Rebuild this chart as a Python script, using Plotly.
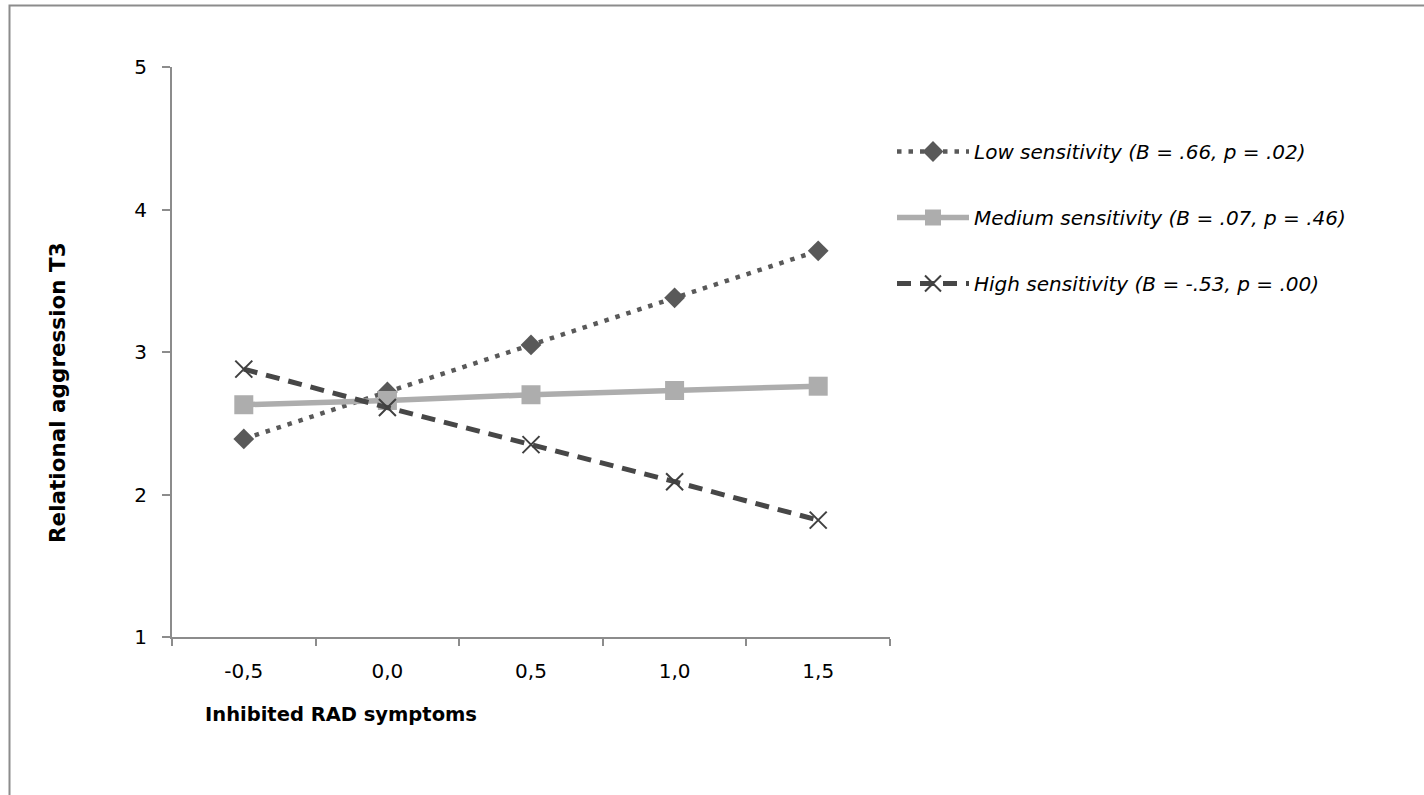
import plotly.graph_objects as go

categories = ["-0,5", "0,0", "0,5", "1,0", "1,5"]
low_vals = [2.39, 2.72, 3.05, 3.38, 3.71]
med_vals = [2.63, 2.66, 2.70, 2.73, 2.76]
high_vals = [2.88, 2.61, 2.35, 2.09, 1.82]
series_names = [
    "Low sensitivity (B = .66, p = .02)",
    "Medium sensitivity (B = .07, p = .46)",
    "High sensitivity (B = -.53, p = .00)",
]
y_ticks = [1, 2, 3, 4, 5]

W, H = 1424, 795
FONT = "DejaVu Sans"

fig = go.Figure()
fig.add_trace(go.Scatter(
    x=categories, y=low_vals, name=series_names[0], mode="lines+markers",
    line=dict(color="#595959", width=4.5, dash="4.5px,7px"),
    marker=dict(symbol="diamond", size=16, color="#595959"),
    legendgroup="a",
))
fig.add_trace(go.Scatter(
    x=categories, y=med_vals, name=series_names[1], mode="lines+markers",
    line=dict(color="#ADADAD", width=5.5),
    marker=dict(symbol="square", size=19, color="#ADADAD"),
    legendgroup="b",
))
fig.add_trace(go.Scatter(
    x=categories, y=high_vals, name=series_names[2], mode="lines+markers",
    line=dict(color="#474747", width=5, dash="14px,9px"),
    marker=dict(symbol="x-thin", size=17, color="#404040",
                line=dict(width=2, color="#404040")),
    legendgroup="c",
))

axis_col = "#8C8C8C"
fig.update_layout(
    width=W, height=H,
    margin=dict(l=0, r=0, t=0, b=0, autoexpand=False),
    paper_bgcolor="white", plot_bgcolor="white",
    font=dict(family=FONT, size=20, color="black"),
    showlegend=True,
    legend=dict(
        x=892 / W, y=1 - 132 / H, xanchor="left", yanchor="top",
        font=dict(family=FONT, size=20, style="italic"),
        itemwidth=72, tracegroupgap=37,
        bgcolor="rgba(0,0,0,0)",
    ),
    xaxis=dict(
        domain=[172 / W, 890 / W],
        type="category", range=[-0.5, 4.5], automargin=False,
        showline=True, linecolor=axis_col, linewidth=2,
        ticks="outside", tickson="boundaries", ticklen=7, tickcolor=axis_col, tickwidth=2,
        showgrid=False, zeroline=False,
        tickfont=dict(family=FONT, size=20),
        ticklabelstandoff=15,
    ),
    yaxis=dict(
        domain=[1 - 637 / H, 1 - 67 / H], automargin=False,
        range=[1, 5], tickvals=y_ticks,
        showline=True, linecolor=axis_col, linewidth=2,
        ticks="outside", ticklen=8, tickcolor=axis_col, tickwidth=2,
        showgrid=False, zeroline=False,
        tickfont=dict(family=FONT, size=20),
        ticklabelstandoff=11,
    ),
    annotations=[
        dict(text="<b>Inhibited RAD symptoms</b>", x=341 / W, y=1 - 714 / H,
             xref="paper", yref="paper", showarrow=False,
             font=dict(family=FONT, size=19.5), xanchor="center", yanchor="middle"),
        dict(text="<b>Relational aggression T3</b>", x=57 / W, y=1 - 393 / H,
             xref="paper", yref="paper", showarrow=False, textangle=-90,
             font=dict(family=FONT, size=21.5), xanchor="center", yanchor="middle"),
    ],
    shapes=[
        dict(type="path", xref="paper", yref="paper",
             path=f"M {9.5 / W},0 L {9.5 / W},{1 - 5.5 / H} L 1,{1 - 5.5 / H}",
             line=dict(color="#8C8C8C", width=2), layer="below"),
    ],
)

fig.write_html(
    "out.html",
    config={"displayModeBar": False},
    post_script="document.body.style.margin='0';document.body.style.overflow='hidden';",
)
